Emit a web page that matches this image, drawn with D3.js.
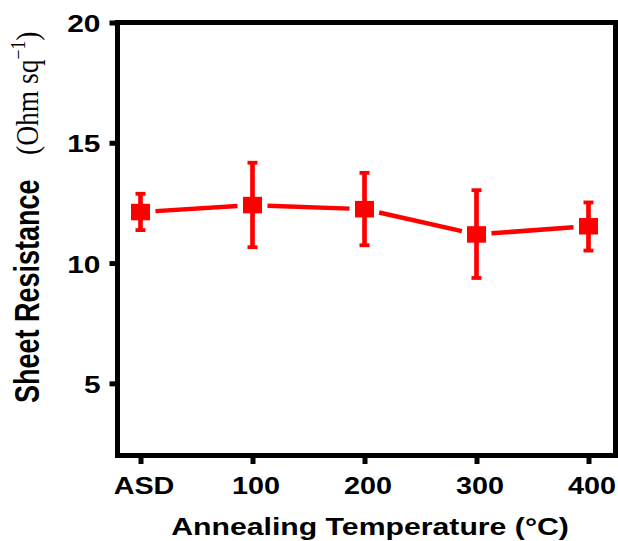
<!DOCTYPE html>
<html>
<head>
<meta charset="utf-8">
<script src="https://cdn.jsdelivr.net/npm/d3@7"></script>
<style>
  html, body { margin: 0; padding: 0; background: #fff; }
  svg { display: block; }
</style>
</head>
<body>
<div id="chart"></div>
<script>
// ---- data ----
const categories = ["ASD", "100", "200", "300", "400"];
const values     = [12.12, 12.41, 12.24, 11.19, 11.53];
const errUpper   = [12.88, 14.17, 13.75, 13.03, 12.52];
const errLower   = [11.37, 10.66, 10.74, 9.38, 10.52];
const yTicks     = [5, 10, 15, 20];
const xTitle = "Annealing Temperature (°C)";
const yTitleMain = "Sheet Resistance";

// ---- layout ----
const W = 618, H = 541;
const frame = { left: 117.5, right: 615.5, top: 22.5, bottom: 455.5 };
const sansBold = "'Liberation Sans', Arial, Helvetica, sans-serif";
const serif = "'Liberation Serif', 'Times New Roman', Times, serif";
const red = "#ff0000";

const svg = d3.select("#chart").append("svg")
  .attr("width", W).attr("height", H)
  .style("background", "#fff");

const x = d3.scalePoint().domain(categories).range([140.5, 588.5]);
const y = d3.scaleLinear().domain([2, 20]).range([frame.bottom, frame.top]);

// frame
svg.append("rect")
  .attr("x", frame.left).attr("y", frame.top)
  .attr("width", frame.right - frame.left)
  .attr("height", frame.bottom - frame.top)
  .attr("fill", "none").attr("stroke", "#000").attr("stroke-width", 5);

// y axis
const yAxis = svg.append("g")
  .attr("transform", `translate(${frame.left},0)`)
  .call(d3.axisLeft(y).tickValues(yTicks).tickSize(8).tickFormat(d3.format("d")));
yAxis.select(".domain").remove();
yAxis.selectAll(".tick line").attr("stroke", "#000").attr("stroke-width", 5);
yAxis.selectAll(".tick text")
  .attr("x", 0).attr("dy", "0.4em")
  .attr("transform", "translate(-17,0) scale(1.3,1)")
  .attr("text-anchor", "end")
  .style("font-family", sansBold).style("font-weight", "bold")
  .style("font-size", "23px").attr("fill", "#000");

// x axis
const xAxis = svg.append("g")
  .attr("transform", `translate(0,${frame.bottom})`)
  .call(d3.axisBottom(x).tickSize(8.5));
xAxis.select(".domain").remove();
xAxis.selectAll(".tick line").attr("stroke", "#000").attr("stroke-width", 5);
xAxis.selectAll(".tick text")
  .attr("y", 0).attr("dy", 0)
  .attr("transform", "translate(3,38.5) scale(1.25,1)")
  .attr("text-anchor", "middle")
  .style("font-family", sansBold).style("font-weight", "bold")
  .style("font-size", "23px").attr("fill", "#000");

// x title
svg.append("text")
  .attr("transform", "translate(370,535) scale(1.26,1)")
  .attr("text-anchor", "middle")
  .style("font-family", sansBold).style("font-weight", "bold")
  .style("font-size", "24px").attr("fill", "#000")
  .text(xTitle);

// y title (bold part)
svg.append("text")
  .attr("transform", "translate(38.5,403) scale(1.28,1) rotate(-90)")
  .attr("text-anchor", "start")
  .style("font-family", sansBold).style("font-weight", "bold")
  .style("font-size", "27px").attr("fill", "#000")
  .text(yTitleMain);

// y title (unit part, serif)
const unit = svg.append("text")
  .attr("transform", "translate(38,155) scale(1.28,1.1) rotate(-90)")
  .attr("text-anchor", "start")
  .style("font-family", serif)
  .style("font-size", "25px").attr("fill", "#000");
unit.append("tspan").text("(Ohm sq");
unit.append("tspan").attr("dy", -10).style("font-size", "16px").text("\u22121");
unit.append("tspan").attr("dy", 10).text(")");

// data
const pts = categories.map((c, i) => ({
  cx: x(c), cy: y(values[i]), up: y(errUpper[i]), lo: y(errLower[i])
}));

// connecting line segments with gaps near markers
const gap = 15;
const segs = d3.pairs(pts).map(([a, b]) => {
  const dx = b.cx - a.cx, dy = b.cy - a.cy, L = Math.hypot(dx, dy);
  const ux = dx / L, uy = dy / L;
  return { x1: a.cx + ux * gap, y1: a.cy + uy * gap, x2: b.cx - ux * gap, y2: b.cy - uy * gap };
});
svg.append("g").selectAll("line").data(segs).join("line")
  .attr("x1", d => d.x1).attr("y1", d => d.y1)
  .attr("x2", d => d.x2).attr("y2", d => d.y2)
  .attr("stroke", red).attr("stroke-width", 4.5);

// error bars
const eb = svg.append("g");
eb.selectAll("line.v").data(pts).join("line").attr("class", "v")
  .attr("x1", d => d.cx).attr("x2", d => d.cx)
  .attr("y1", d => d.up).attr("y2", d => d.lo)
  .attr("stroke", red).attr("stroke-width", 4.7);
eb.selectAll("line.cu").data(pts).join("line").attr("class", "cu")
  .attr("x1", d => d.cx - 5).attr("x2", d => d.cx + 5)
  .attr("y1", d => d.up).attr("y2", d => d.up)
  .attr("stroke", red).attr("stroke-width", 3.8);
eb.selectAll("line.cl").data(pts).join("line").attr("class", "cl")
  .attr("x1", d => d.cx - 5).attr("x2", d => d.cx + 5)
  .attr("y1", d => d.lo).attr("y2", d => d.lo)
  .attr("stroke", red).attr("stroke-width", 3.8);

// markers
svg.append("g").selectAll("rect").data(pts).join("rect")
  .attr("x", d => d.cx - 9.5).attr("y", d => d.cy - 8.25)
  .attr("width", 19).attr("height", 16.5)
  .attr("fill", red);
</script>
</body>
</html>
